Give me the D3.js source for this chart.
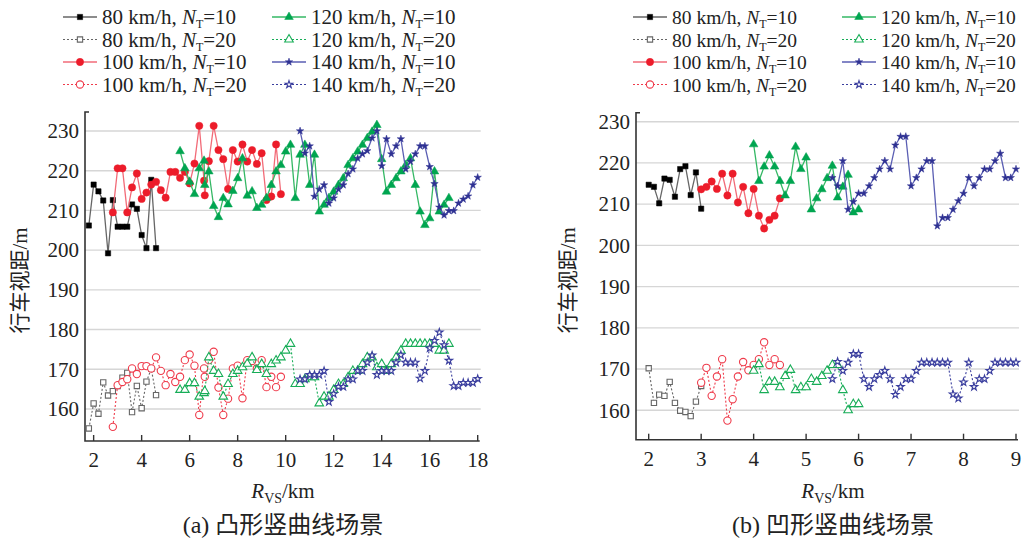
<!DOCTYPE html>
<html>
<head>
<meta charset="utf-8">
<script src="https://cdn.jsdelivr.net/npm/d3@7.9.0/dist/d3.min.js"></script>
<style>
  html, body { margin: 0; padding: 0; background: #fff; }
  svg { display: block; }
  text { font-family: 'Liberation Serif', 'Times New Roman', 'Noto Sans CJK SC', serif; fill: #222; }
</style>
</head>
<body>
<svg id="chart" width="1029" height="546"></svg>
<script>
// ---- data: (a) convex curve, x = R_vs (km), y = sight distance (m)
const xA80  = [1.8,2.0,2.2,2.4,2.6,2.8,3.0,3.2,3.4,3.6,3.8,4.0,4.2,4.4,4.6];
const yA80_10 = [206.2,216.5,214.8,212.5,199.2,212.6,205.9,205.9,205.9,211.5,210.4,203.8,200.5,217.7,200.5];
const yA80_20 = [155.1,161.4,158.8,166.7,163.4,164.5,165.8,167.9,169.1,159.2,165.8,160.2,166.9,170.1,163.5];

const xA100 = [2.8,3.0,3.2,3.4,3.6,3.8,4.0,4.2,4.4,4.6,4.8,5.0,5.2,5.4,5.6,5.8,6.0,6.2,6.4,6.6,6.63,
  6.8,7.0,7.2,7.4,7.6,7.8,8.0,8.2,8.4,8.6,8.8,9.0,9.2,9.4,9.6,9.8];
const yA100_10 = [209.5,220.6,220.6,209.5,215.8,219.3,212.9,214.5,216.5,217.2,215.1,213.2,219.7,219.7,218.2,219.7,216.8,221.8,231.3,217.5,213.8,
  222.4,231.3,225.2,222.9,215.4,225.2,222.3,226.6,222.3,225.2,221.7,224.4,212.6,213.5,226.6,214.1];
const yA100_20 = [155.5,166.0,166.8,167.5,170.2,168.8,170.8,170.8,170.2,173.0,169.6,166.0,168.8,166.8,168.1,172.3,173.7,170.9,158.5,170.2,168.1,
  172.3,174.4,165.4,158.5,162.6,170.2,170.9,162.7,172.3,172.1,170.2,172.3,165.5,168.1,165.5,168.1];

const xA120 = [5.6,5.8,6.0,6.2,6.4,6.6,6.63,6.8,7.0,7.2,7.4,7.6,7.8,8.0,8.2,8.4,8.6,8.8,9.0,9.2,9.4,9.6,9.8,
  10.0,10.2,10.4,10.6,10.8,11.0,11.2,11.4,11.6,11.8,12.0,12.2,12.4,12.6,12.8,13.0,13.2,13.4,13.6,13.8,
  14.0,14.2,14.4,14.6,14.8,15.0,15.2,15.4,15.6,15.8,16.0,16.2,16.4,16.6,16.8];
const yA120_10 = [224.9,220.6,217.2,214.1,220.6,222.5,216.4,219.8,211.1,208.3,213.1,211.5,214.9,218.1,223.1,213.7,214.8,210.6,211.4,213.1,216.4,219.8,221.4,
  224.8,226.5,213.1,224.0,226.5,216.4,224.0,209.7,211.4,213.1,214.7,216.4,218.1,221.4,223.1,224.8,226.5,228.2,229.8,231.5,
  222.9,214.7,216.4,218.1,219.8,221.4,223.1,216.4,209.7,206.3,208.0,219.8,209.7,211.4,213.1];
const yA120_20 = [164.8,164.8,166.5,166.5,163.1,164.0,164.5,173.0,169.6,168.8,163.1,166.3,168.8,169.6,170.5,171.4,173.0,169.8,171.3,168.8,171.3,172.2,173.0,
  174.7,176.4,166.3,166.3,167.5,168.0,168.0,161.4,163.1,163.1,164.8,166.3,166.3,168.0,169.6,169.6,171.3,173.0,173.0,170.5,
  171.3,169.6,171.3,173.0,174.7,176.4,176.4,176.4,176.4,176.4,176.4,176.4,174.7,174.7,176.4];

const xA140 = [10.6,10.8,11.0,11.2,11.4,11.6,11.8,12.0,12.2,12.4,12.6,12.8,13.0,13.2,13.4,13.6,13.8,14.0,14.2,
  14.4,14.6,14.8,15.0,15.2,15.4,15.6,15.8,16.0,16.2,16.4,16.6,16.8,17.0,17.2,17.4,17.6,17.8,18.0];
const yA140_10 = [230.0,224.4,226.2,213.5,215.3,216.4,211.8,213.1,215.3,216.4,219.2,220.4,223.1,224.2,225.0,228.2,230.0,221.2,228.0,
  224.2,226.2,228.0,220.4,222.3,224.2,226.2,226.2,221.0,216.7,210.8,208.8,209.9,209.9,211.8,212.8,213.6,216.4,218.3];
const yA140_20 = [167.5,167.5,168.6,168.6,168.6,169.6,161.8,163.8,165.6,165.6,167.5,167.5,169.6,169.6,171.7,173.5,168.6,169.6,169.6,
  169.6,171.7,173.6,171.7,171.7,171.7,167.7,169.6,175.3,177.2,179.3,176.1,172.2,165.8,165.8,166.6,166.6,166.6,167.6];

// ---- data: (b) concave curve
const xB80  = [2.0,2.1,2.2,2.3,2.4,2.5,2.6,2.7,2.8,2.9,3.0];
const yB80_10 = [214.7,214.2,210.2,216.2,215.9,211.8,218.5,219.2,212.2,217.7,208.9];
const yB80_20 = [170.2,161.8,163.8,163.5,166.9,161.8,159.9,159.6,158.6,162.1,165.9];

const xB100 = [3.0,3.1,3.2,3.3,3.4,3.5,3.6,3.7,3.8,3.9,4.0,4.1,4.2,4.3,4.4,4.5];
const yB100_10 = [213.6,214.2,215.5,213.7,217.4,212.1,217.4,210.4,214.2,207.8,213.7,207.2,204.1,206.2,207.2,211.4];
const yB100_20 = [166.7,170.3,163.5,168.2,172.4,157.5,162.7,168.2,171.7,169.7,171.0,172.4,176.5,171.0,172.4,171.0];

const xB120 = [4.0,4.1,4.2,4.3,4.4,4.5,4.6,4.7,4.8,4.9,5.0,5.1,5.2,5.3,5.4,5.5,5.6,5.7,5.8,5.9,6.0];
const yB120_10 = [224.5,215.6,219.1,221.8,219.1,215.6,212.1,215.6,223.9,218.5,221.3,208.7,211.4,213.6,216.3,219.3,211.6,214.2,217.1,208.0,208.7];
const yB120_20 = [169.6,171.2,164.9,166.9,166.9,165.6,168.3,169.8,164.9,165.6,165.6,167.6,166.9,168.3,169.6,171.0,171.0,164.9,160.0,161.5,161.5];

const xB140 = [5.5,5.6,5.7,5.8,5.9,6.0,6.1,6.2,6.3,6.4,6.5,6.6,6.7,6.8,6.9,7.0,7.1,7.2,
  7.3,7.4,7.5,7.6,7.7,7.8,7.9,8.0,8.1,8.2,8.3,8.4,8.5,8.6,8.7,8.8,8.9,9.0];
const yB140_10 = [216.4,214.4,220.5,208.7,210.6,212.6,212.6,214.4,216.4,218.5,220.5,218.5,224.3,226.4,226.4,214.4,216.4,218.5,
  220.5,220.5,204.7,206.7,206.7,208.7,210.8,212.6,216.4,214.4,216.4,218.5,218.5,220.5,222.3,216.4,216.4,218.5];
const yB140_20 = [167.6,171.8,169.6,171.6,173.7,173.7,167.6,165.7,167.6,168.6,169.6,167.6,163.8,165.7,167.6,167.6,169.6,171.6,
  171.6,171.6,171.6,171.6,171.6,163.9,162.9,166.8,171.6,165.7,167.6,167.6,169.6,171.6,171.6,171.6,171.6,171.6];

const yTicks = [160,170,180,190,200,210,220,230];
const xTicksA = [2,4,6,8,10,12,14,16,18];
const xTicksB = [2,3,4,5,6,7,8,9];
const speeds = ['80','100','120','140'];
const counts = ['10','20'];

// ---- styles
const style = {
  '80':  { mark: '#000000', line: '#666666', hollow: '#666666', sym: d3.symbolSquare, size: 28 },
  '100': { mark: '#ec1c2a', line: '#f26b78', hollow: '#ef3b4b', sym: d3.symbolCircle, size: 42 },
  '120': { mark: '#00a550', line: '#35b865', hollow: '#17ad57', sym: d3.symbolTriangle, size: 32 },
  '140': { mark: '#2e3192', line: '#5a5eb3', hollow: '#3a3e9e', sym: d3.symbolStar, size: 17 }
};

const svg = d3.select('#chart');

function drawPanel(p) {
  const g = svg.append('g');
  const x = d3.scaleLinear().domain(p.xDomain).range(p.xRange);
  const y = d3.scaleLinear().domain(p.yDomain).range(p.yRange);
  const x0 = p.xRange[0], x1 = p.xRange[1] + 2;
  const yb = p.yRange[0], yt = p.yRange[1];

  // grid
  g.selectAll('.grid').data(yTicks).join('line')
    .attr('x1', x0).attr('x2', x1 + 1)
    .attr('y1', d => y(d)).attr('y2', d => y(d))
    .attr('stroke', '#d6d6d6').attr('stroke-width', 1.4);

  // axes
  g.append('path')
    .attr('d', `M${x0 + 4},${yt}H${x0}V${yb}H${x1}`)
    .attr('fill', 'none').attr('stroke', '#333').attr('stroke-width', 1.6);
  g.selectAll('.xt').data(p.xTicks).join('line')
    .attr('x1', d => x(d)).attr('x2', d => x(d))
    .attr('y1', yb).attr('y2', yb - 6)
    .attr('stroke', '#333').attr('stroke-width', 1.4);
  g.selectAll('.xl').data(p.xTicks).join('text')
    .attr('x', d => x(d)).attr('y', yb + 26)
    .attr('text-anchor', 'middle').attr('font-size', 21)
    .text(d => d);
  g.selectAll('.yl').data(yTicks).join('text')
    .attr('x', x0 - 6).attr('y', d => y(d)).attr('dy', '0.35em')
    .attr('text-anchor', 'end').attr('font-size', 21)
    .text(d => d);

  // titles
  g.append('text')
    .attr('transform', `translate(${p.yTitleX},${(yb + yt) / 2 + 4}) rotate(-90)`)
    .attr('text-anchor', 'middle').attr('dy', '0.35em').attr('font-size', 21)
    .text('行车视距/m');
  const xt = g.append('text')
    .attr('x', p.xTitleX).attr('y', 498).attr('text-anchor', 'middle').attr('font-size', 21);
  xt.append('tspan').attr('font-style', 'italic').text('R');
  xt.append('tspan').attr('font-size', 14).attr('dy', 5).text('VS');
  xt.append('tspan').attr('dy', -5).text('/km');
  g.append('text')
    .attr('x', p.xTitleX).attr('y', 533).attr('text-anchor', 'middle').attr('font-size', 24)
    .text(p.caption);

  // series
  const line = d3.line().x(d => x(d[0])).y(d => y(d[1]));
  p.series.forEach(s => {
    const st = style[s.speed];
    const pts = s.x.map((v, i) => [v, s.y[i]]);
    const hollow = s.n === '20';
    g.append('path').datum(pts)
      .attr('d', line).attr('fill', 'none')
      .attr('stroke', hollow ? st.hollow : st.line)
      .attr('stroke-width', hollow ? 1.1 : 1.3)
      .attr('stroke-dasharray', hollow ? '2,2' : null);
    const sym = d3.symbol().type(st.sym).size(st.size);
    g.selectAll(null).data(pts).join('path')
      .attr('transform', d => `translate(${x(d[0])},${y(d[1])})`)
      .attr('d', sym)
      .attr('fill', hollow ? '#fff' : st.mark)
      .attr('stroke', hollow ? st.hollow : st.mark)
      .attr('stroke-width', hollow ? 1.1 : 0.5);
  });

  // legend
  const lg = g.append('g');
  const items = [];
  speeds.forEach(sp => counts.forEach(n => items.push({ speed: sp, n })));
  items.forEach((it, i) => {
    const col = i < 4 ? 0 : 1, row = i % 4;
    const lx = p.legendX + col * p.legendGap, ly = 17 + row * 22.5;
    const st = style[it.speed];
    const hollow = it.n === '20';
    lg.append('line')
      .attr('x1', lx).attr('x2', lx + 34).attr('y1', ly).attr('y2', ly)
      .attr('stroke', hollow ? st.hollow : st.line)
      .attr('stroke-width', hollow ? 1.1 : 1.3)
      .attr('stroke-dasharray', hollow ? '2,2' : null);
    lg.append('path')
      .attr('transform', `translate(${lx + 17},${ly})`)
      .attr('d', d3.symbol().type(st.sym).size(st.size)())
      .attr('fill', hollow ? '#fff' : st.mark)
      .attr('stroke', hollow ? st.hollow : st.mark)
      .attr('stroke-width', hollow ? 1.1 : 0.5);
    const t = lg.append('text').attr('x', lx + 39).attr('y', ly + 7).attr('font-size', p.legendFont);
    t.append('tspan').text(`${it.speed} km/h, `);
    t.append('tspan').attr('font-style', 'italic').text('N');
    t.append('tspan').attr('font-size', 12).attr('dy', 4).text('T');
    t.append('tspan').attr('dy', -4).text(`=${it.n}`);
  });
}

function seriesOf(xs, ys10, ys20, speed) {
  return [{ speed, n: '20', x: xs, y: ys20 }, { speed, n: '10', x: xs, y: ys10 }];
}

drawPanel({
  xDomain: [1.64, 18], xRange: [85, 477.7],
  yDomain: [151.94, 234.78], yRange: [441, 112],
  xTicks: xTicksA, yTitleX: 20, xTitleX: 283,
  legendX: 63, legendGap: 209, legendFont: 21,
  caption: '(a) 凸形竖曲线场景',
  series: [].concat(
    seriesOf(xA80, yA80_10, yA80_20, '80'),
    seriesOf(xA100, yA100_10, yA100_20, '100'),
    seriesOf(xA120, yA120_10, yA120_20, '120'),
    seriesOf(xA140, yA140_10, yA140_20, '140'))
});

drawPanel({
  xDomain: [1.758, 9], xRange: [636, 1016],
  yDomain: [152.87, 232.18], yRange: [439.7, 112.7],
  xTicks: xTicksB, yTitleX: 568, xTitleX: 833,
  legendX: 633, legendGap: 209, legendFont: 19.5,
  caption: '(b) 凹形竖曲线场景',
  series: [].concat(
    seriesOf(xB80, yB80_10, yB80_20, '80'),
    seriesOf(xB100, yB100_10, yB100_20, '100'),
    seriesOf(xB120, yB120_10, yB120_20, '120'),
    seriesOf(xB140, yB140_10, yB140_20, '140'))
});
</script>
</body>
</html>
